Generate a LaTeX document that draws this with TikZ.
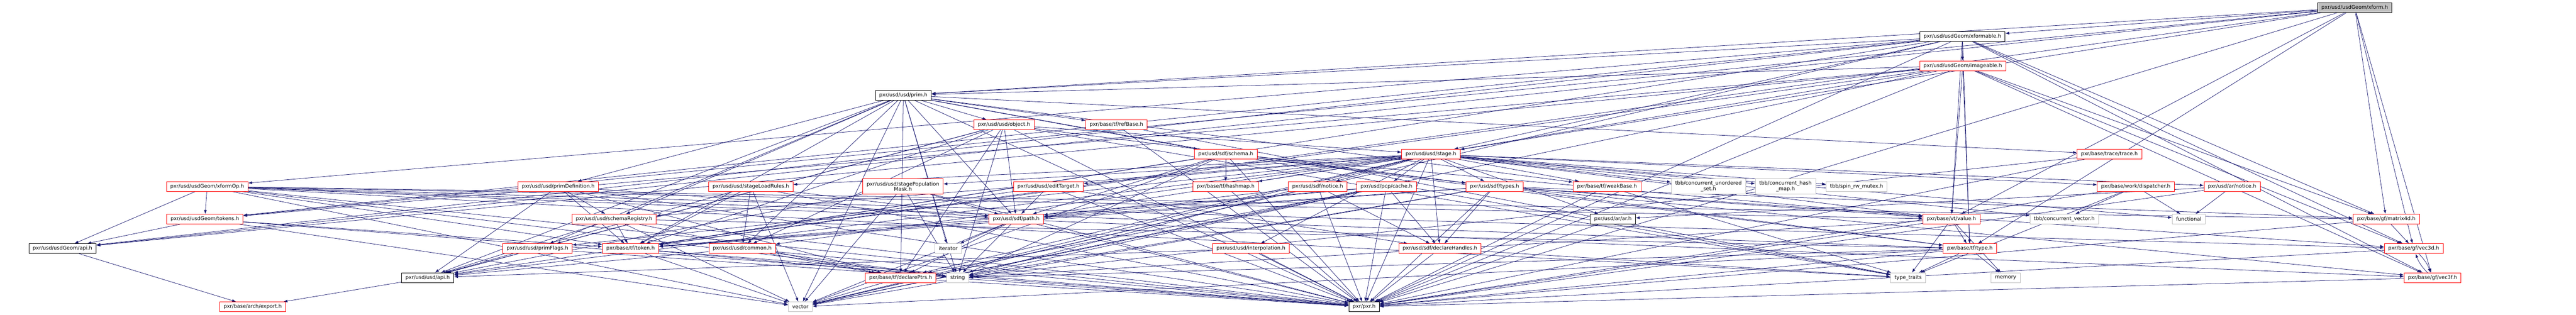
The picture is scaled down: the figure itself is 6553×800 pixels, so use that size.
\documentclass[tikz,border=0pt]{standalone}
\usepackage{fontspec}
\setmainfont{DejaVu Sans}
\usepackage{tikz}
\usepackage{xcolor}
\usetikzlibrary{arrows.meta,backgrounds}
\definecolor{edgeblue}{HTML}{191970}
\definecolor{rootgray}{HTML}{BFBFBF}

\begin{document}
\begin{tikzpicture}[x=0.75pt,y=-0.75pt,
        box/.style={draw,fill=white,line width=0.75pt,inner xsep=7.5pt,inner ysep=0pt,minimum height=18.75pt,align=center,font=\fontsize{9.7}{10.5}\selectfont},
        hdr/.style={box,draw=red},
        blk/.style={box,draw=black},
        sys/.style={box,draw=black!25},
        root/.style={box,draw=black,fill=rootgray},
        twoline/.style={minimum height=29.25pt},
        inc/.style={color=edgeblue,line width=0.75pt,-{Latex[length=7.5pt,width=5.5pt]}}]
        \useasboundingbox (0,0) rectangle (6553,800);
        \node[root] (xform) at (5990,19) {pxr/usd/usdGeom/xform.h};
        \node[blk] (xformable) at (4992,93) {pxr/usd/usdGeom/xformable.h};
        \node[hdr] (imageable) at (4993,167) {pxr/usd/usdGeom/imageable.h};
        \node[blk] (prim) at (2298,242) {pxr/usd/usd/prim.h};
        \node[hdr] (object) at (2554,317) {pxr/usd/usd/object.h};
        \node[hdr] (refBase) at (2840,317) {pxr/base/tf/refBase.h};
        \node[hdr] (sdfSchema) at (3118,392) {pxr/usd/sdf/schema.h};
        \node[hdr] (stage) at (3640,392) {pxr/usd/usd/stage.h};
        \node[hdr] (trace) at (5366,392) {pxr/base/trace/trace.h};
        \node[hdr] (xformOp) at (527,474) {pxr/usd/usdGeom/xformOp.h};
        \node[hdr] (primDef) at (1420,474) {pxr/usd/usd/primDefinition.h};
        \node[hdr] (loadRules) at (1910,474) {pxr/usd/usd/stageLoadRules.h};
        \node[hdr,twoline] (popMask) at (2297,474) {pxr/usd/usd/stagePopulation\\Mask.h};
        \node[hdr] (editTarget) at (2667,474) {pxr/usd/usd/editTarget.h};
        \node[hdr] (hashmap) at (3118,474) {pxr/base/tf/hashmap.h};
        \node[hdr] (sdfNotice) at (3352,474) {pxr/usd/sdf/notice.h};
        \node[hdr] (pcpCache) at (3527,474) {pxr/usd/pcp/cache.h};
        \node[hdr] (sdfTypes) at (3802,474) {pxr/usd/sdf/types.h};
        \node[hdr] (weakBase) at (4088,474) {pxr/base/tf/weakBase.h};
        \node[sys,twoline] (tbbUSet) at (4346,474) {tbb/concurrent\_unordered\\\_set.h};
        \node[sys,twoline] (tbbHMap) at (4542,474) {tbb/concurrent\_hash\\\_map.h};
        \node[sys] (spinMutex) at (4723,474) {tbb/spin\_rw\_mutex.h};
        \node[hdr] (dispatcher) at (5433,474) {pxr/base/work/dispatcher.h};
        \node[hdr] (arNotice) at (5678,474) {pxr/usd/ar/notice.h};
        \node[hdr] (geomTokens) at (521,557) {pxr/usd/usdGeom/tokens.h};
        \node[hdr] (schemaReg) at (1562,557) {pxr/usd/usd/schemaRegistry.h};
        \node[hdr] (sdfPath) at (2585,557) {pxr/usd/sdf/path.h};
        \node[blk] (arAr) at (4103,557) {pxr/usd/ar/ar.h};
        \node[hdr] (vtValue) at (4964,557) {pxr/base/vt/value.h};
        \node[sys] (tbbCVector) at (5251,557) {tbb/concurrent\_vector.h};
        \node[sys] (functional) at (5568,557) {functional};
        \node[hdr] (matrix4d) at (6070,557) {pxr/base/gf/matrix4d.h};
        \node[blk] (geomApi) at (159,632) {pxr/usd/usdGeom/api.h};
        \node[hdr] (primFlags) at (1367,632) {pxr/usd/usd/primFlags.h};
        \node[hdr] (tfToken) at (1604,632) {pxr/base/tf/token.h};
        \node[hdr] (common) at (1888,632) {pxr/usd/usd/common.h};
        \node[sys] (iterator) at (2412,632) {iterator};
        \node[hdr] (interp) at (3182,632) {pxr/usd/usd/interpolation.h};
        \node[hdr] (declHandles) at (3663,632) {pxr/usd/sdf/declareHandles.h};
        \node[hdr] (tfType) at (5011,632) {pxr/base/tf/type.h};
        \node[hdr] (vec3d) at (6140,632) {pxr/base/gf/vec3d.h};
        \node[blk] (usdApi) at (1088,706) {pxr/usd/usd/api.h};
        \node[hdr] (declPtrs) at (2291,706) {pxr/base/tf/declarePtrs.h};
        \node[sys] (string) at (2436,706) {string};
        \node[sys] (typeTraits) at (4854,706) {type\_traits};
        \node[sys] (memory) at (5102,706) {memory};
        \node[hdr] (vec3f) at (6188,706) {pxr/base/gf/vec3f.h};
        \node[hdr] (archExport) at (643,780) {pxr/base/arch/export.h};
        \node[sys] (vector) at (2036,780) {vector};
        \node[blk] (pxrH) at (3470,780) {pxr/pxr.h};
        \begin{scope}[on background layer]
            \draw[inc] (xform) edge (xformable) edge (geomApi) edge (prim) edge (stage) edge (geomTokens) edge (vtValue) edge (tfToken) edge (tfType) edge (matrix4d) edge (vec3d) edge (vec3f) edge (pxrH);
            \draw[inc] (xformable) edge (imageable) edge (geomApi) edge (xformOp) edge (prim) edge (stage) edge (geomTokens) edge (vtValue) edge (tfToken) edge (tfType) edge (matrix4d) edge (vec3d) edge (vec3f) edge (vector) edge (pxrH);
            \draw[inc] (imageable) edge (geomApi) edge (prim) edge (stage) edge (geomTokens) edge (vtValue) edge (tfToken) edge (tfType) edge (matrix4d) edge (vec3d) edge (vec3f) edge (vector) edge (pxrH);
            \draw[inc] (prim) edge (usdApi) edge (object) edge (common) edge (primFlags) edge (schemaReg) edge (primDef) edge (sdfSchema) edge (sdfPath) edge (trace) edge (refBase) edge (weakBase) edge (declPtrs) edge (tfToken) edge (iterator) edge (string) edge (typeTraits) edge (vector) edge (pxrH);
            \draw[inc] (object) edge (usdApi) edge (common) edge (primFlags) edge (stage) edge (sdfPath) edge (sdfTypes) edge (tfToken) edge (declPtrs) edge (string) edge (typeTraits) edge (pxrH);
            \draw[inc] (refBase) edge (typeTraits) edge (pxrH);
            \draw[inc] (sdfSchema) edge (hashmap) edge (sdfTypes) edge (sdfPath) edge (tfToken) edge (tfType) edge (vtValue) edge (string) edge (vector) edge (pxrH);
            \draw[inc] (stage) edge (usdApi) edge (common) edge (editTarget) edge (interp) edge (schemaReg) edge (primFlags) edge (loadRules) edge (popMask) edge (sdfNotice) edge (sdfPath) edge (sdfTypes) edge (pcpCache) edge (declHandles) edge (declPtrs) edge (hashmap) edge (weakBase) edge (arAr) edge (arNotice) edge (dispatcher) edge (tbbUSet) edge (tbbHMap) edge (tbbCVector) edge (spinMutex) edge (vtValue) edge (functional) edge (string) edge (vector) edge (pxrH);
            \draw[inc] (trace) edge (string) edge (pxrH);
            \draw[inc] (xformOp) edge (geomApi) edge (geomTokens) edge (tfToken) edge (tfType) edge (vtValue) edge (matrix4d) edge (vec3d) edge (vec3f) edge (typeTraits) edge (string) edge (vector) edge (pxrH);
            \draw[inc] (primDef) edge (usdApi) edge (schemaReg) edge (sdfPath) edge (tfToken) edge (declPtrs) edge (pxrH);
            \draw[inc] (loadRules) edge (usdApi) edge (common) edge (sdfPath) edge (tfToken) edge (vector) edge (pxrH);
            \draw[inc] (popMask) edge (usdApi) edge (sdfPath) edge (string) edge (vector) edge (pxrH);
            \draw[inc] (editTarget) edge (usdApi) edge (sdfPath) edge (declHandles) edge (pxrH);
            \draw[inc] (hashmap) edge (pxrH);
            \draw[inc] (sdfNotice) edge (declHandles) edge (sdfPath) edge (vector) edge (pxrH);
            \draw[inc] (pcpCache) edge (declHandles) edge (sdfPath) edge (declPtrs) edge (tfToken) edge (string) edge (vector) edge (pxrH);
            \draw[inc] (sdfTypes) edge (declHandles) edge (sdfPath) edge (tfToken) edge (tfType) edge (vtValue) edge (matrix4d) edge (vec3d) edge (vec3f) edge (string) edge (vector) edge (pxrH);
            \draw[inc] (weakBase) edge (typeTraits) edge (pxrH);
            \draw[inc] (dispatcher) edge (tbbCVector) edge (functional) edge (typeTraits) edge (pxrH);
            \draw[inc] (arNotice) edge (arAr) edge (functional) edge (pxrH);
            \draw[inc] (geomTokens) edge (geomApi) edge (tfToken) edge (vector) edge (pxrH);
            \draw[inc] (schemaReg) edge (usdApi) edge (tfToken) edge (tfType) edge (declPtrs) edge (vector) edge (pxrH);
            \draw[inc] (sdfPath) edge (iterator) edge (string) edge (vector) edge (declPtrs) edge (tfToken) edge (pxrH);
            \draw[inc] (vtValue) edge (tfType) edge (typeTraits) edge (memory) edge (string) edge (pxrH);
            \draw[inc] (arAr) edge (pxrH);
            \draw[inc] (matrix4d) edge (vec3d) edge (pxrH);
            \draw[inc] (geomApi) edge (archExport);
            \draw[inc] (primFlags) edge (usdApi) edge (pxrH);
            \draw[inc] (tfToken) edge (string) edge (vector) edge (pxrH);
            \draw[inc] (common) edge (usdApi) edge (declPtrs) edge (string) edge (pxrH);
            \draw[inc] (interp) edge (usdApi) edge (pxrH);
            \draw[inc] (declHandles) edge (typeTraits) edge (pxrH);
            \draw[inc] (tfType) edge (typeTraits) edge (memory) edge (string) edge (vector) edge (pxrH);
            \draw[inc] (vec3d) edge[bend left=12] (vec3f) edge (pxrH);
            \draw[inc] (usdApi) edge (archExport);
            \draw[inc] (declPtrs) edge (vector) edge (pxrH);
            \draw[inc] (vec3f) edge[bend left=12] (vec3d) edge (pxrH);
        \end{scope}
    \end{tikzpicture}
\end{document}
